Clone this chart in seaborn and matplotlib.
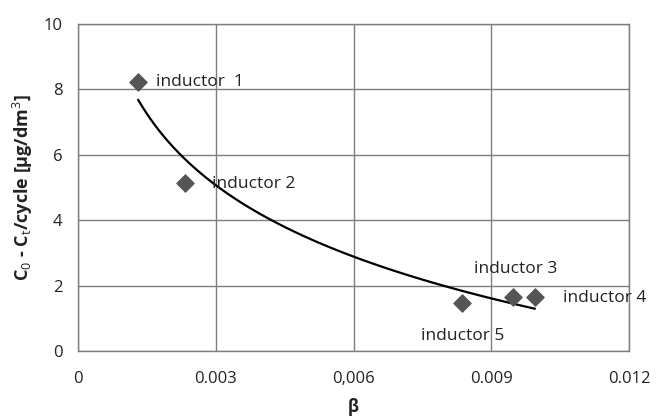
import numpy as np
import pandas as pd
import seaborn as sns
from matplotlib import pyplot as plt

# inductor data
inductors = ["inductor  1", "inductor 2", "inductor 3", "inductor 4", "inductor 5"]
beta = [0.00131, 0.00233, 0.00947, 0.00995, 0.00836]
dc = [8.23, 5.14, 1.65, 1.65, 1.47]

x_ticks = [0, 0.003, 0.006, 0.009, 0.012]
x_tick_labels = ["0", "0.003", "0,006", "0.009", "0.012"]
y_ticks = [0, 2, 4, 6, 8, 10]

data = pd.DataFrame({"inductor": inductors, "beta": beta, "dc": dc})

sns.set_theme(style="white")
plt.rcParams["font.family"] = ["Open Sans", "DejaVu Sans"]
plt.rcParams["mathtext.fontset"] = "custom"
plt.rcParams["mathtext.rm"] = "Open Sans"
plt.rcParams["mathtext.it"] = "Open Sans"
plt.rcParams["mathtext.bf"] = "Open Sans:bold"

fig, ax = plt.subplots(figsize=(6.58, 4.19), dpi=100)
fig.subplots_adjust(left=0.1185, right=0.956, top=0.943, bottom=0.162)

# logarithmic trendline
sns.regplot(x="beta", y="dc", data=data, logx=True, ci=None, scatter=False,
            color="black", line_kws={"lw": 1.6}, ax=ax)
sns.scatterplot(x="beta", y="dc", data=data, marker="D", s=80, color="#555555",
                edgecolor="#555555", zorder=3, ax=ax)

# label offsets in pixels (dx, dy, ha)
offsets = [(18, 0, "left"), (27, -1, "left"), (3, 28, "center"), (28, -1, "left"), (1, -33, "center")]
for name, x, y, (dx, dy, ha) in zip(inductors, beta, dc, offsets):
    ax.annotate(name, (x, y), xytext=(dx, dy), textcoords="offset pixels",
                ha=ha, va="center", fontsize=12.5, color="#222222")

ax.set_xlim(0, 0.012)
ax.set_ylim(0, 10)
ax.set_xticks(x_ticks)
ax.set_xticklabels(x_tick_labels)
ax.set_yticks(y_ticks)
ax.grid(True, color="#7f7f7f", lw=1)
for s in ax.spines.values():
    s.set_color("#7f7f7f")
    s.set_linewidth(1)
ax.tick_params(axis="both", direction="out", length=5, color="#7f7f7f",
               labelsize=12, labelcolor="#222222", pad=6)
ax.tick_params(axis="x", pad=9)

ax.set_xlabel("β", fontsize=12, fontweight="bold", labelpad=8, color="#222222")
ax.set_ylabel(r"C$_0$ - C$_t$/cycle [µg/dm$^3$]", fontsize=13, fontweight="bold",
              labelpad=6, color="#222222")

fig.savefig("out.png", dpi=100)
